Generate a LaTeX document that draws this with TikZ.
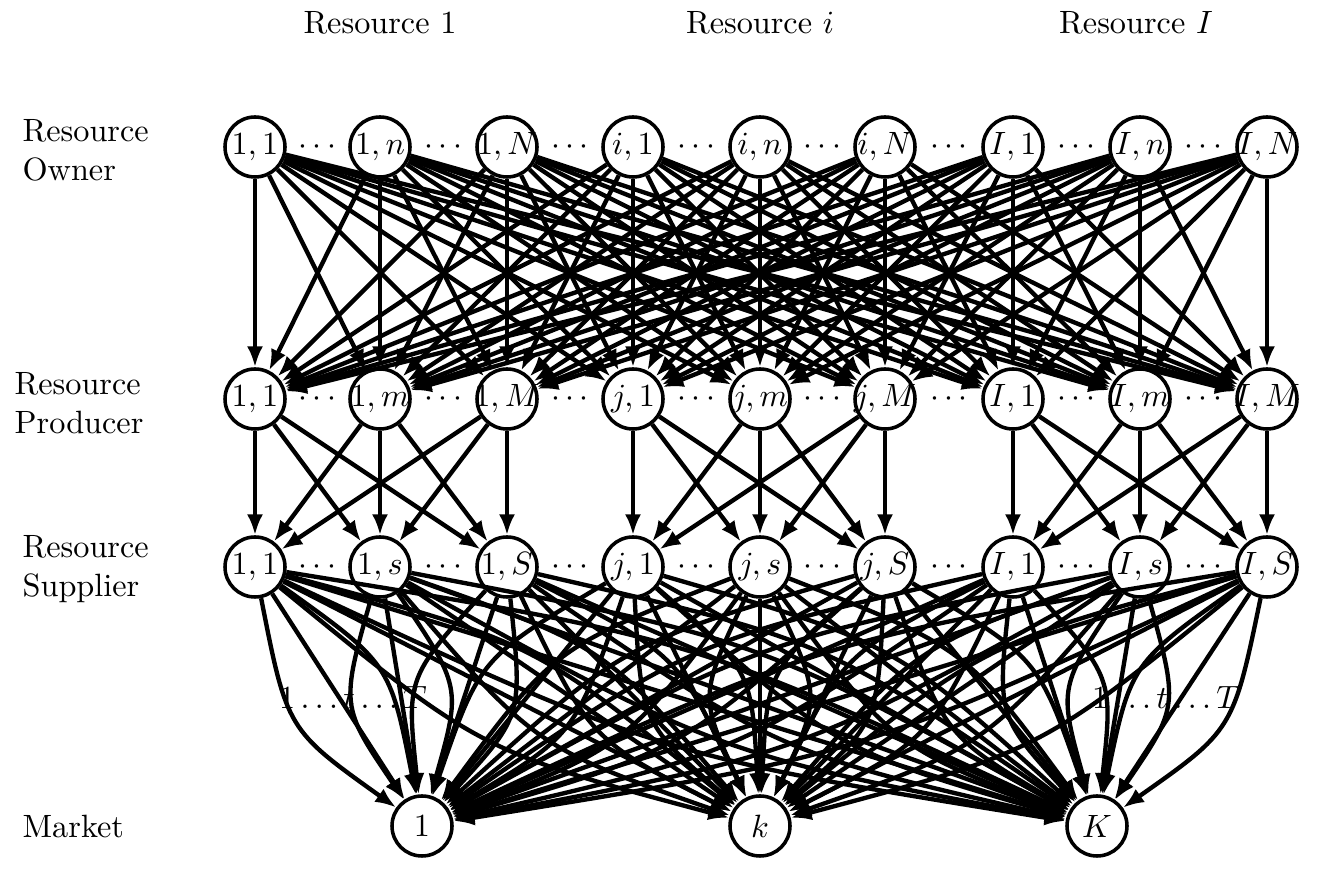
\documentclass[tikz,border=0pt]{standalone}
\usetikzlibrary{arrows.meta,calc}
\begin{document}
\begin{tikzpicture}[x=0.31pt,y=-0.31pt,
  nd/.style={circle,draw,line width=1.1pt,fill=white,minimum size=18.6pt,inner sep=0pt},
  edge/.style={line width=1.35pt,-{Latex[length=6.5pt,width=5pt]}},
  lbl/.style={anchor=west,align=left,inner sep=0pt},
  ttl/.style={inner sep=0pt}]
\useasboundingbox (0,0) rectangle (1320,876);
% titles
\node[ttl] (r1) at (380,23) {Resource 1};
\node[ttl] (ri) at (760,23) {Resource $i$};
\node[ttl] (rI) at (1136,23) {Resource $I$};
\node[lbl] (lo) at (22,150) {Resource\\Owner};
\node[lbl] (lp) at (14,403) {Resource\\Producer};
\node[lbl] (ls) at (22,569) {Resource\\Supplier};
\node[lbl] (lm) at (22,826) {Market};
% owner row
\foreach \x/\t [count=\i] in {255/{1,1},380/{1,n},507/{1,N},633/{i,1},760/{i,n},885/{i,N},1013/{I,1},1140/{I,n},1267/{I,N}}
  \node[nd] (o\i) at (\x,147) {\makebox[0pt]{$\t$}};
% producer row
\foreach \x/\t [count=\i] in {255/{1,1},380/{1,m},507/{1,M},633/{j,1},760/{j,m},885/{j,M},1013/{I,1},1140/{I,m},1267/{I,M}}
  \node[nd] (p\i) at (\x,399) {\makebox[0pt]{$\t$}};
% supplier row
\foreach \x/\t [count=\i] in {255/{1,1},380/{1,s},507/{1,S},633/{j,1},760/{j,s},885/{j,S},1013/{I,1},1140/{I,s},1267/{I,S}}
  \node[nd] (s\i) at (\x,567) {\makebox[0pt]{$\t$}};
% market row
\foreach \x/\t [count=\i] in {422/1,760/k,1097/K}
  \node[nd] (m\i) at (\x,826) {\makebox[0pt]{$\t$}};
% dots
\foreach \a [evaluate=\a as \b using int(\a+1)] in {1,...,8} {
  \node[inner sep=0pt] (od\a) at ($(o\a)!0.5!(o\b)$) {$\cdots$};
  \node[inner sep=0pt] (pd\a) at ($(p\a)!0.5!(p\b)$) {$\cdots$};
  \node[inner sep=0pt] (sd\a) at ($(s\a)!0.5!(s\b)$) {$\cdots$};
}
% owner -> producer
\foreach \a in {1,...,9}
  \foreach \b in {1,...,9}
    \draw[edge] (o\a) -- (p\b);
% producer -> supplier
\foreach \g in {0,3,6}
  \foreach \a in {1,2,3}
    \foreach \b in {1,2,3} {
      \pgfmathtruncatemacro\u{\g+\a}
      \pgfmathtruncatemacro\v{\g+\b}
      \draw[edge] (p\u) -- (s\v);
    }
% supplier -> market
\foreach \a in {1,...,9}
  \foreach \k in {1,2,3} {
    \draw[edge] (s\a) -- (m\k);
    \draw[edge] (s\a) .. controls ($(s\a)!0.5!(m\k)!19pt!90:(m\k)$) .. (m\k);
    \draw[edge] (s\a) .. controls ($(s\a)!0.5!(m\k)!19pt!-90:(m\k)$) .. (m\k);
  }
\node (lab1) at (353,697) {$1\ldots t\ldots T$};
\node (lab2) at (1166,697) {$1\ldots t\ldots T$};
\end{tikzpicture}
\end{document}
